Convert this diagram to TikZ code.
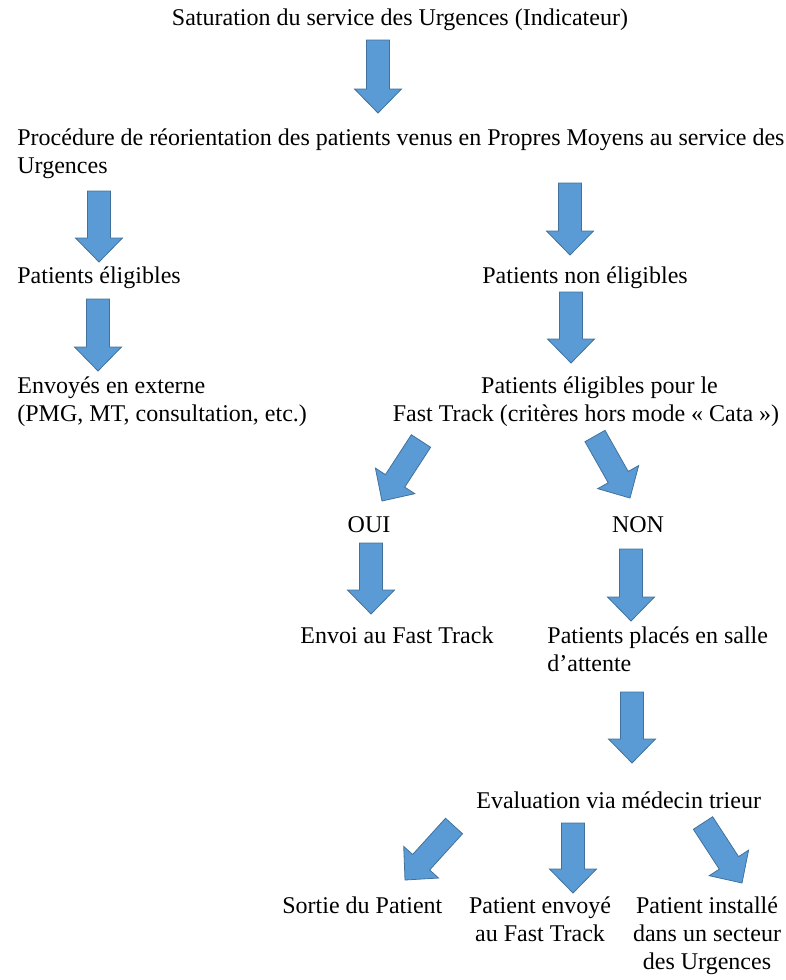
\documentclass[tikz,border=0pt]{standalone}
\usepackage{fontspec}
\setmainfont{Liberation Serif}
\usetikzlibrary{calc}
\definecolor{arrowfill}{RGB}{91,155,213}
\definecolor{arrowedge}{RGB}{65,113,156}

% block arrow from tail (#1) to tip (#2)
\newcommand{\blockarrow}[2]{%
  \draw[bigarrow] ($(#1)!5.75pt!90:(#2)$) -- ($(#2)!12pt!(#1)!5.75pt!90:(#2)$)
    -- ($(#2)!12pt!(#1)!11.75pt!90:(#2)$) -- (#2)
    -- ($(#2)!12pt!(#1)!11.75pt!-90:(#2)$) -- ($(#2)!12pt!(#1)!5.75pt!-90:(#2)$)
    -- ($(#1)!5.75pt!-90:(#2)$) -- cycle;}

\begin{document}
\begin{tikzpicture}[
    x=0.5pt, y=-0.5pt,
    txt/.style={inner sep=0pt, font=\fontsize{12}{14}\selectfont},
    bigarrow/.style={fill=arrowfill, draw=arrowedge, line width=0.4pt, line join=miter}
]
\useasboundingbox (0,0) rectangle (786,980);

% Top
\node[txt, anchor=base] (sat) at (400,25) {Saturation du service des Urgences (Indicateur)};
\node[txt, anchor=base west, align=left] (proc) at (17,173) {Procédure de réorientation des patients venus en Propres Moyens au service des\\Urgences};

% Left branch
\node[txt, anchor=base west] (elig) at (17,283) {Patients éligibles};
\node[txt, anchor=base west, align=left] (ext) at (17,421) {Envoyés en externe\\(PMG, MT, consultation, etc.)};

% Right branch
\node[txt, anchor=base west] (nonelig) at (482,283) {Patients non éligibles};
\node[txt, anchor=base, align=center] (ft) at (586,421) {\hspace*{13.5pt}Patients éligibles pour le\\Fast Track (critères hors mode « Cata »)};
\node[txt, anchor=base] (oui) at (369,532) {OUI};
\node[txt, anchor=base] (non) at (638,532) {NON};
\node[txt, anchor=base west] (envoi) at (300,643) {Envoi au Fast Track};
\node[txt, anchor=base west, align=left] (salle) at (547,671) {Patients placés en salle\\d’attente};
\node[txt, anchor=base west] (eval) at (476,808) {Evaluation via médecin trieur};

% Bottom
\node[txt, anchor=base west] (sortie) at (282,913) {Sortie du Patient};
\node[txt, anchor=base, align=center] (envoye) at (540,941) {Patient envoyé\\au Fast Track};
\node[txt, anchor=base, align=center] (inst) at (707,969) {Patient installé\\dans un secteur\\des Urgences};

% Arrow ends
\coordinate (a1s) at (378,40);  \coordinate (a1e) at (378,113);
\coordinate (a2s) at (99,191);  \coordinate (a2e) at (99,262);
\coordinate (a3s) at (570,183); \coordinate (a3e) at (570,255);
\coordinate (a4s) at (98,299);  \coordinate (a4e) at (98,371);
\coordinate (a5s) at (571,292); \coordinate (a5e) at (571,363);
\coordinate (a6s) at (421,441); \coordinate (a6e) at (382,501);
\coordinate (a7s) at (595,436); \coordinate (a7e) at (630,498);
\coordinate (a8s) at (371,543); \coordinate (a8e) at (371,614);
\coordinate (a9s) at (631,549); \coordinate (a9e) at (631,621);
\coordinate (a10s) at (632,692); \coordinate (a10e) at (632,763);
\coordinate (a11s) at (454,826); \coordinate (a11e) at (405,880);
\coordinate (a12s) at (573,823); \coordinate (a12e) at (573,893);
\coordinate (a13s) at (703,823); \coordinate (a13e) at (742,883);

% Arrows
\foreach \i in {1,...,13} {\blockarrow{a\i s}{a\i e}}

\end{tikzpicture}
\end{document}
